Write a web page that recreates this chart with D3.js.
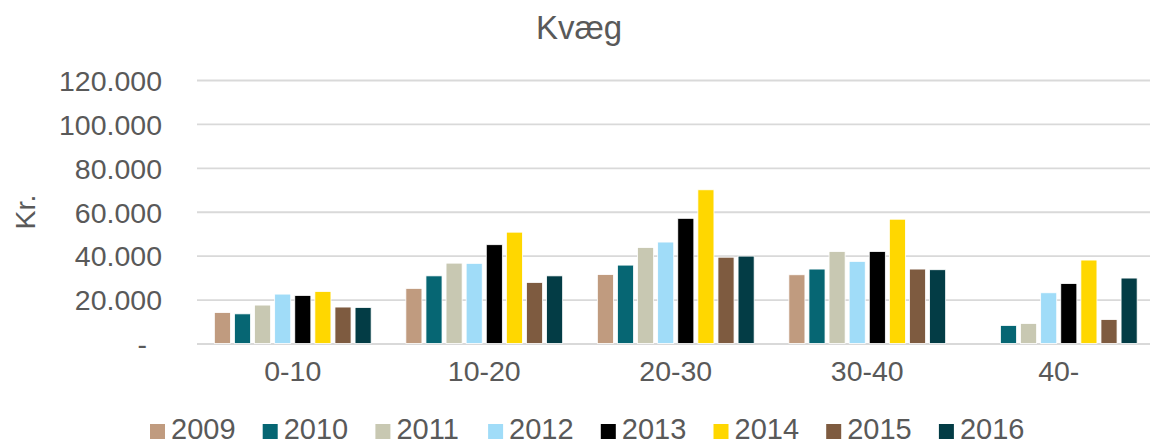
<!DOCTYPE html>
<html>
<head>
<meta charset="utf-8">
<script src="https://cdn.jsdelivr.net/npm/d3@7"></script>
<style>
  html, body { margin: 0; padding: 0; background: #fff; }
  svg { display: block; font-family: "Liberation Sans", Arial, sans-serif; }
</style>
</head>
<body>
<div id="chart"></div>
<script>
const categories = ["0-10", "10-20", "20-30", "30-40", "40-"];
const years = ["2009", "2010", "2011", "2012", "2013", "2014", "2015", "2016"];
const yearColors = ["#c09b7f", "#066673", "#c8c8b2", "#a0dcf8", "#000000", "#ffd700", "#7e5b40", "#033c45"];

// one array per category, values per year (null = no bar)
const v0_10  = [14100, 13500, 17500, 22500, 21900, 23700, 16600, 16400];
const v10_20 = [25100, 30800, 36600, 36500, 45000, 50700, 27800, 30800];
const v20_30 = [31400, 35700, 43700, 46200, 57000, 70000, 39300, 39800];
const v30_40 = [31300, 33900, 41900, 37400, 41900, 56600, 33900, 33600];
const v40    = [null, 8200, 9100, 23100, 27300, 38000, 10900, 29800];
const values = [v0_10, v10_20, v20_30, v30_40, v40];

const yTicks = [0, 20000, 40000, 60000, 80000, 100000, 120000];

const width = 1150, height = 446;
const plot = { left: 197, right: 1154.5, top: 80, bottom: 343.5 };
const textColor = "#595959";
const gridColor = "#d9d9d9";

const svg = d3.select("#chart").append("svg")
    .attr("width", width)
    .attr("height", height);

const x0 = d3.scaleBand()
    .domain(categories)
    .range([plot.left, plot.right]);

const half = 78.4;
const x1 = d3.scaleBand()
    .domain(years)
    .range([x0.bandwidth() / 2 - half, x0.bandwidth() / 2 + half])
    .paddingInner(0.2);

const y = d3.scaleLinear()
    .domain([0, 120000])
    .range([plot.bottom, plot.top]);

const color = d3.scaleOrdinal().domain(years).range(yearColors);

// gridlines + tick labels
const yAxis = svg.append("g")
    .attr("transform", `translate(${plot.left},0)`)
    .call(d3.axisLeft(y)
        .tickValues(yTicks)
        .tickSize(-(plot.right - plot.left))
        .tickPadding(35)
        .tickFormat(d => d === 0 ? "-" : d3.format(",")(d).replace(/,/g, ".")));

yAxis.select(".domain").remove();
yAxis.selectAll(".tick line")
    .attr("stroke", gridColor)
    .attr("stroke-width", 1.8);
yAxis.selectAll(".tick text")
    .attr("fill", textColor)
    .style("font-size", "28.5px")
    .attr("dy", "0.36em");
yAxis.selectAll(".tick text")
    .filter(d => d === 0)
    .attr("dx", -15);

// bars
const groups = svg.append("g").selectAll("g")
    .data(categories)
    .join("g")
    .attr("transform", d => `translate(${x0(d)},0)`);

groups.selectAll("rect")
    .data((d, i) => years.map((yr, j) => ({ year: yr, value: values[i][j] })).filter(e => e.value != null))
    .join("rect")
    .attr("x", d => x1(d.year))
    .attr("width", x1.bandwidth())
    .attr("y", d => y(d.value))
    .attr("height", d => y(0) - y(d.value))
    .attr("fill", d => color(d.year))
    .attr("stroke", "#ffffff")
    .attr("stroke-width", 0.8);

// category labels
const xAxis = svg.append("g")
    .attr("transform", `translate(0,${plot.bottom})`)
    .call(d3.axisBottom(x0).tickSize(0).tickPadding(17));
xAxis.select(".domain").remove();
xAxis.selectAll(".tick text")
    .attr("fill", textColor)
    .style("font-size", "28.5px");

// title
svg.append("text")
    .attr("x", 579)
    .attr("y", 39)
    .attr("text-anchor", "middle")
    .attr("fill", textColor)
    .style("font-size", "33px")
    .text("Kvæg");

// y-axis label
svg.append("text")
    .attr("transform", "translate(35,212) rotate(-90)")
    .attr("text-anchor", "middle")
    .attr("fill", textColor)
    .style("font-size", "28.5px")
    .text("Kr.");

// legend
const legend = svg.append("g").attr("transform", "translate(150,424)");
const item = legend.selectAll("g")
    .data(years)
    .join("g")
    .attr("transform", (d, i) => `translate(${i * 112.7},0)`);
item.append("rect")
    .attr("width", 15)
    .attr("height", 15)
    .attr("fill", d => color(d));
item.append("text")
    .attr("x", 21)
    .attr("y", 15.3)
    .attr("fill", textColor)
    .style("font-size", "29px")
    .text(d => d);
</script>
</body>
</html>
